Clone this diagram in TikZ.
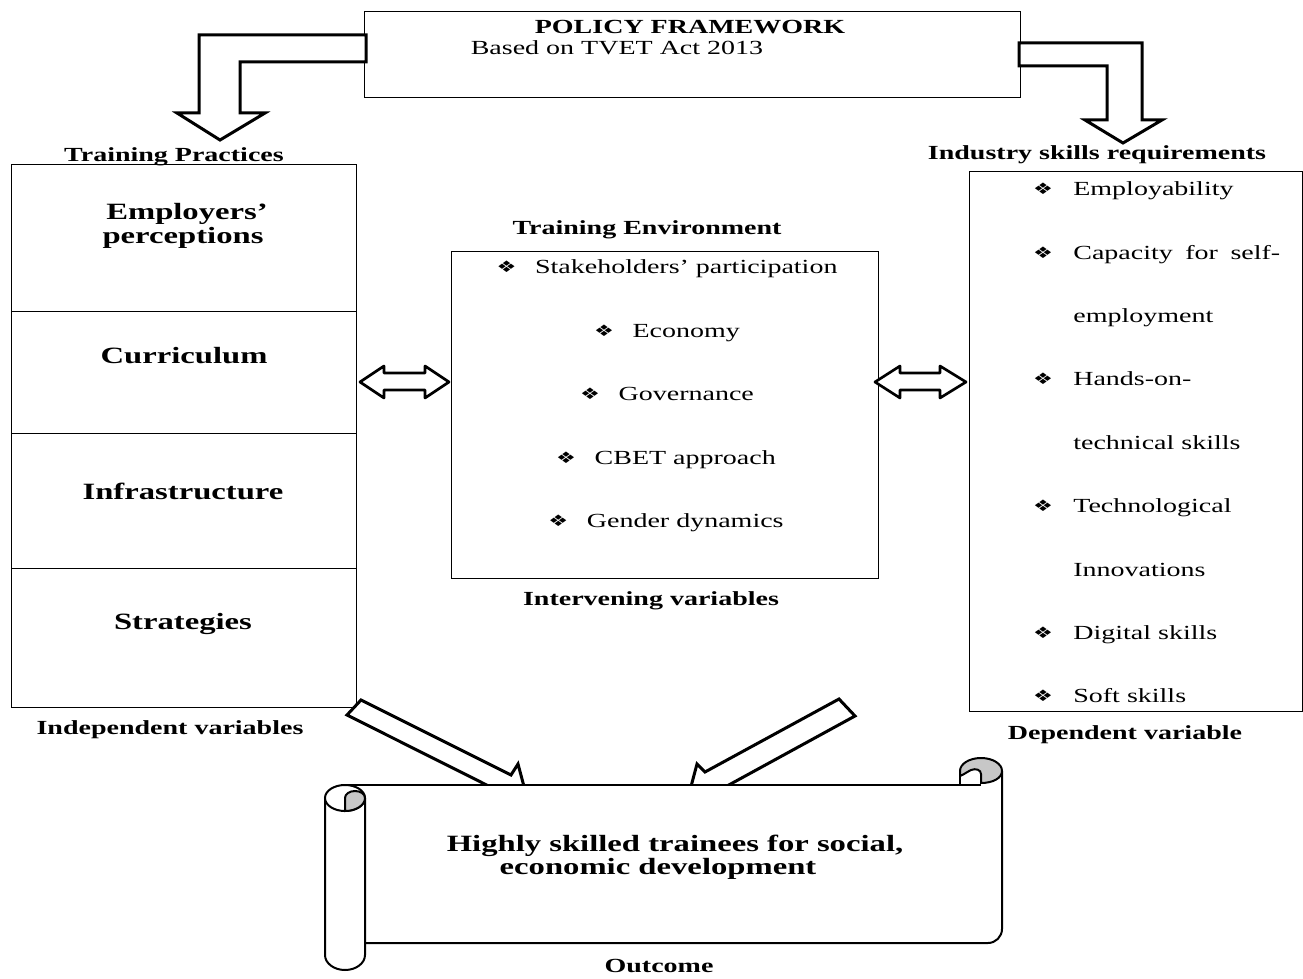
\documentclass[tikz,border=0pt]{standalone}
\usepackage{fontspec}
\setmainfont{Liberation Serif}
\newfontfamily\djv{DejaVu Sans}
\usepackage{graphicx}
\newcommand{\hs}[1]{\scalebox{1.4}[1]{#1}}
\newcommand{\bul}{\raisebox{0.6pt}{\djv\fontsize{9.5}{11}\selectfont ❖}}
\newcommand{\rbl}{{\djv\fontsize{9.5}{11}\selectfont ❖}}
\tikzset{
  lbl/.style={inner sep=0pt, anchor=base, font=\fontsize{12}{14}\selectfont\bfseries},
  big/.style={inner sep=0pt, anchor=base, font=\fontsize{14}{16}\selectfont\bfseries},
  itm/.style={inner sep=0pt, anchor=base, font=\fontsize{12}{14}\selectfont},
  ritm/.style={inner sep=0pt, anchor=base west, font=\fontsize{12}{14}\selectfont},
  rbul/.style={inner sep=0pt, anchor=center},
  frame/.style={draw, line width=0.6pt},
  hollow/.style={draw, line width=1.8pt, fill=white, line join=miter},
  dbl/.style={draw, line width=1.6pt, fill=white, line join=round},
  scrl/.style={draw, line width=1.2pt},
  curl/.style={draw, line width=1.2pt, fill=black!22},
}
\begin{document}
\begin{tikzpicture}[x=0.6pt, y=-0.6pt]
\useasboundingbox (0,0) rectangle (1303,979);

% ---- top policy box
\draw[frame] (364,12) rectangle (1020,98);
\node[lbl] (pf) at (690,34) {\hs{POLICY FRAMEWORK}};
\node[itm] (tvet) at (617,55) {\hs{Based on TVET Act 2013}};

% ---- bent arrows from the policy box
\draw[hollow] (366,35) -- (199,35) -- (199,113) -- (177,113) -- (220,140) -- (265,113) -- (240,113) -- (240,62) -- (366,62) -- cycle;
\draw[hollow] (1019,43) -- (1142,43) -- (1142,120) -- (1162,120) -- (1123,143) -- (1085,120) -- (1107,120) -- (1107,66) -- (1019,66) -- cycle;

% ---- left column (independent variables)
\node[lbl] (tp) at (174,162) {\hs{Training Practices}};
\draw[frame] (11,165) rectangle (356,707);
\draw[frame] (11,311) -- (356,311);
\draw[frame] (11,433) -- (356,433);
\draw[frame] (11,568) -- (356,568);
\node[big] (emp1) at (187,219) {\hs{Employers’}};
\node[big] (emp2) at (183,244) {\hs{perceptions}};
\node[big] (cur) at (184,363) {\hs{Curriculum}};
\node[big] (inf) at (183,499) {\hs{Infrastructure}};
\node[big] (str) at (183,629) {\hs{Strategies}};
\node[lbl] (iv) at (170,734) {\hs{Independent variables}};

% ---- middle column (intervening variables)
\node[lbl] (te) at (647,234) {\hs{Training Environment}};
\draw[frame] (451,251) rectangle (878,578);
\node[itm] (m1) at (667,273) {\hs{\bul\hspace{8pt}Stakeholders’ participation}};
\node[itm] (m2) at (667,337) {\hs{\bul\hspace{8pt}Economy}};
\node[itm] (m3) at (667,400) {\hs{\bul\hspace{8pt}Governance}};
\node[itm] (m4) at (666,464) {\hs{\bul\hspace{8pt}CBET approach}};
\node[itm] (m5) at (666,527) {\hs{\bul\hspace{8pt}Gender dynamics}};
\node[lbl] (inv) at (651,605) {\hs{Intervening variables}};

% ---- right column (dependent variable)
\node[lbl] (isr) at (1097,159) {\hs{Industry skills requirements}};
\draw[frame] (969,172) rectangle (1302,711);
\node[rbul] (b1) at (1043,189) {\hs{\rbl}};
\node[ritm] (r1) at (1073,195) {\hs{Employability}};
\node[rbul] (b2) at (1043,253) {\hs{\rbl}};
\node[ritm] (r2) at (1073,259) {\hs{\makebox[88.7pt][s]{Capacity for self-}}};
\node[ritm] (r3) at (1073,322) {\hs{employment}};
\node[rbul] (b4) at (1043,379) {\hs{\rbl}};
\node[ritm] (r4) at (1073,385) {\hs{Hands-on-}};
\node[ritm] (r5) at (1073,449) {\hs{technical skills}};
\node[rbul] (b6) at (1043,506) {\hs{\rbl}};
\node[ritm] (r6) at (1073,512) {\hs{Technological}};
\node[ritm] (r7) at (1073,576) {\hs{Innovations}};
\node[rbul] (b8) at (1043,633) {\hs{\rbl}};
\node[ritm] (r8) at (1073,639) {\hs{Digital skills}};
\node[rbul] (b9) at (1043,696) {\hs{\rbl}};
\node[ritm] (r9) at (1073,702) {\hs{Soft skills}};
\node[lbl] (dv) at (1125,739) {\hs{Dependent variable}};

% ---- double arrows
\draw[dbl] (360,382) -- (384,366) -- (384,373) -- (425,373) -- (425,366) -- (449,382) -- (425,398) -- (425,390) -- (384,390) -- (384,398) -- cycle;
\draw[dbl] (875,382) -- (900,366) -- (900,373) -- (940,373) -- (940,366) -- (966,382) -- (940,398) -- (940,390) -- (900,390) -- (900,398) -- cycle;

% ---- diagonal arrows to the outcome
\draw[hollow] (361,700) -- (511,775) -- (518,764) -- (526,794) -- (497.5,804.7) -- (502,792.7) -- (347,715) -- cycle;
\draw[hollow] (839,699) -- (705,772) -- (697,764) -- (689,794) -- (718,803) -- (716,792) -- (855,716) -- cycle;

% ---- scroll (outcome)
\fill[white] (325,785) rectangle (1002,970);
\draw[scrl] (345,785) -- (960,785);
\draw[scrl] (365,943) -- (988,943) .. controls (995.7,943) and (1002,936.7) .. (1002,929) -- (1002,771);
% left roll
\draw[scrl] (325,798) -- (325,955) .. controls (325,963.3) and (334,970) .. (345,970) .. controls (356,970) and (365,963.3) .. (365,955) -- (365,798);
\draw[scrl, fill=white] (325,798) .. controls (325,790.8) and (334,785) .. (345,785) .. controls (356,785) and (365,790.8) .. (365,798) .. controls (365,805.2) and (356,811) .. (345,811) .. controls (334,811) and (325,805.2) .. (325,798) -- cycle;
\draw[curl] (345,811) -- (345,798) .. controls (345,794) and (349.5,791) .. (355,791) .. controls (360.5,791) and (365,794) .. (365,798) .. controls (365,805.2) and (356,811) .. (345,811) -- cycle;
% right roll
\draw[scrl] (960,785) -- (960,771);
\draw[curl] (960,776) -- (960,771) .. controls (960,763.8) and (969.4,758) .. (981,758) .. controls (992.6,758) and (1002,763.8) .. (1002,771) .. controls (1002,778) and (993,783) .. (981,783) -- (981,774) .. controls (981,770) and (976,768) .. (971,770) .. controls (967,772) and (963,775) .. (960,776) -- cycle;
\draw[scrl] (960,785) -- (981,785);

\node[big] (hs1) at (675,851) {\hs{Highly skilled trainees for social,}};
\node[big] (hs2) at (658,874) {\hs{economic development}};
\node[lbl] (out) at (659,972) {\hs{Outcome}};
\end{tikzpicture}
\end{document}
